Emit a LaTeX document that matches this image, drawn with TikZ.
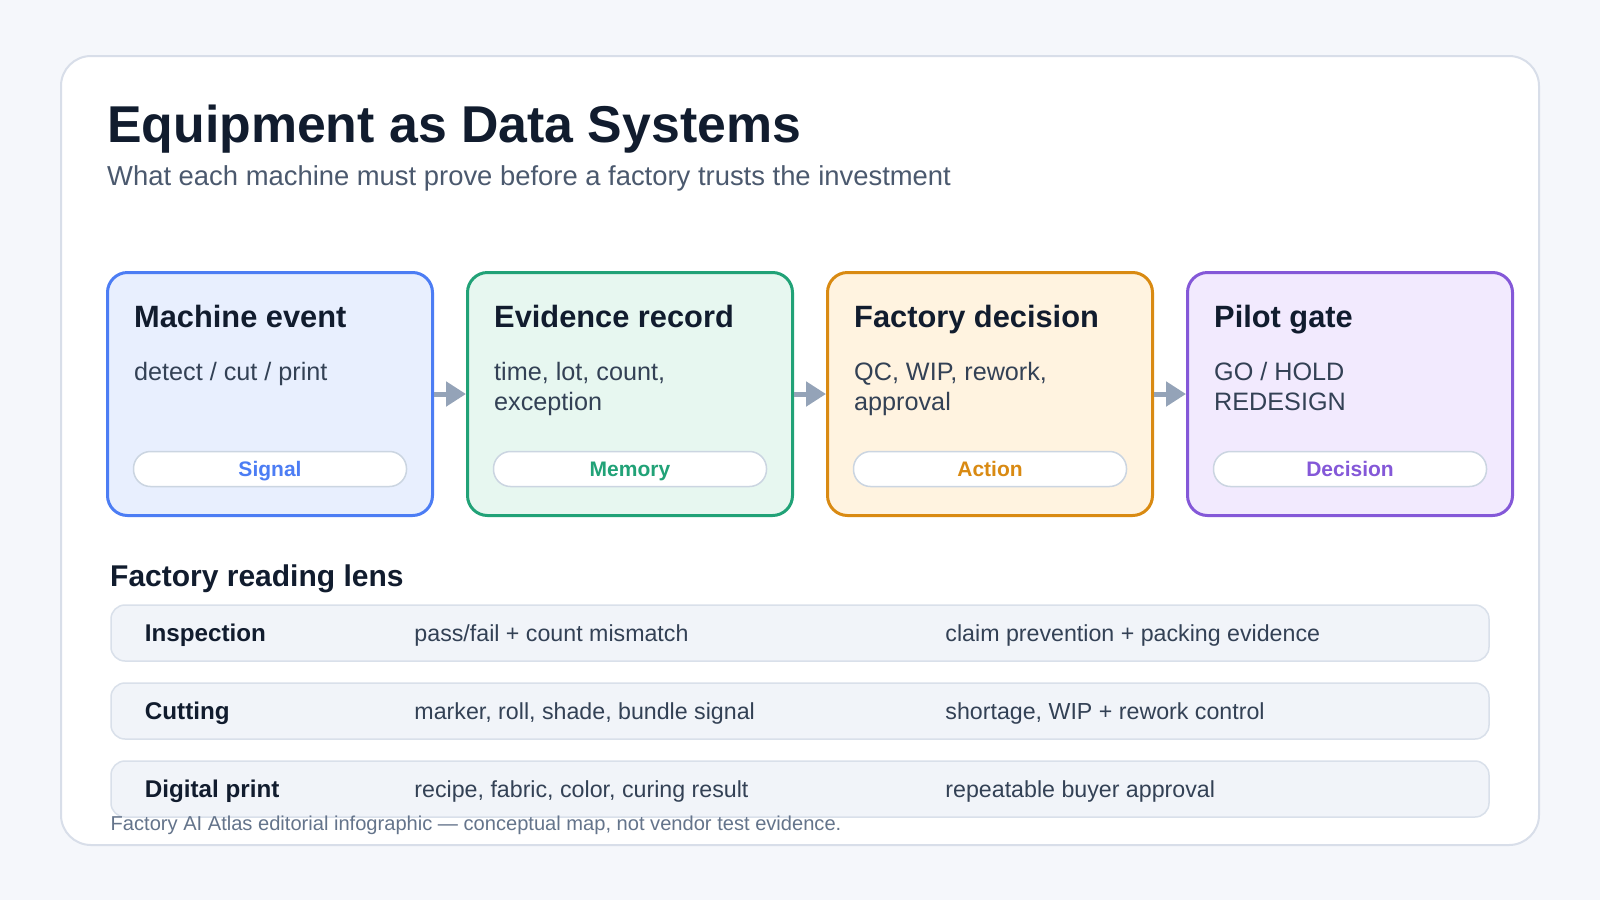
\documentclass[tikz,border=0pt]{standalone}
\usepackage{fontspec}
\setmainfont{Liberation Sans}
\usetikzlibrary{arrows.meta,positioning,calc}
\definecolor{pageBG}{HTML}{F5F7FB}
\definecolor{frameLine}{HTML}{D8DEE9}
\definecolor{inkDark}{HTML}{111C2E}
\definecolor{inkSub}{HTML}{4B596E}
\definecolor{inkBody}{HTML}{334155}
\definecolor{inkFoot}{HTML}{64748B}
\definecolor{flowGrey}{HTML}{94A3B8}
\definecolor{pillLine}{HTML}{CBD5E1}
\definecolor{rowFill}{HTML}{F1F4F9}
\definecolor{rowLine}{HTML}{D9E0EA}
\definecolor{sigBlue}{HTML}{4C7DF4}
\definecolor{sigBlueBG}{HTML}{E8EFFE}
\definecolor{memGreen}{HTML}{21A277}
\definecolor{memGreenBG}{HTML}{E7F7F0}
\definecolor{actOrange}{HTML}{D98A12}
\definecolor{actOrangeBG}{HTML}{FFF3E0}
\definecolor{decPurple}{HTML}{8458D8}
\definecolor{decPurpleBG}{HTML}{F2EAFE}
\newcommand{\pxsize}[1]{\fontsize{#1}{#1}\selectfont}

\begin{document}
\begin{tikzpicture}[
    x=1pt,y=-1pt,
    card/.style={draw=#1,fill=#1BG,line width=3pt,rounded corners=20pt,
      minimum width=325pt,minimum height=243pt,inner sep=0pt},
    pill/.style={draw=pillLine,fill=white,line width=1.5pt,rounded corners=17pt,
      minimum width=273pt,minimum height=35pt,inner sep=0pt,
      text height=15pt,text depth=0pt,
      font=\bfseries\pxsize{21},text=#1},
    row/.style={draw=rowLine,fill=rowFill,line width=1.5pt,rounded corners=14pt,
      minimum width=1378pt,minimum height=56pt,inner sep=0pt},
    txt/.style={inner sep=0pt,anchor=base west},
    cardhead/.style={txt,font=\bfseries\pxsize{30.8},text=inkDark},
    cardbody/.style={txt,font=\pxsize{25.2},text=inkBody},
    rowhead/.style={txt,font=\bfseries\pxsize{24.2},text=inkDark},
    rowbody/.style={txt,font=\pxsize{23.2},text=inkBody},
    flow/.style={-{Triangle[length=20pt,width=24pt]},line width=5pt,flowGrey}
  ]
  \useasboundingbox (0,0) rectangle (1600,900);
  \fill[pageBG] (0,0) rectangle (1600,900);
  \draw[frameLine,fill=white,line width=2pt,rounded corners=30pt]
    (61,56) rectangle (1539,845);

  \node[txt,font=\bfseries\pxsize{51.8},text=inkDark] (title) at (107,142)
    {Equipment as Data Systems};
  \node[txt,font=\pxsize{27.4},text=inkSub] (subtitle) at (107,185)
    {What each machine must prove before a factory trusts the investment};

  % the four stages
  \foreach \i/\hue/\head/\lineA/\lineB/\tag in {
      1/sigBlue/Machine event/{detect / cut / print}/{}/Signal,
      2/memGreen/Evidence record/{time, lot, count,}/exception/Memory,
      3/actOrange/Factory decision/{QC, WIP, rework,}/approval/Action,
      4/decPurple/Pilot gate/{GO / HOLD}/REDESIGN/Decision}{
    \node[card=\hue] (c\i) at ({270+360*(\i-1)},394) {};
    \node[cardhead] (c\i-head) at ($(c\i.north west)+(28,56)$) {\head};
    \node[cardbody] (c\i-l1) at ($(c\i.north west)+(28,109)$) {\lineA};
    \node[cardbody] (c\i-l2) at ($(c\i.north west)+(28,139)$) {\lineB};
    \node[pill=\hue] (c\i-tag) at ($(c\i.north)+(0,198)$) {\tag};
  }
  \foreach \a/\b in {1/2,2/3,3/4}
    \draw[flow] (c\a.east) -- (c\b.west);

  % reading lens table
  \node[txt,font=\bfseries\pxsize{30},text=inkDark] (lens) at (110,586)
    {Factory reading lens};
  \foreach \k/\stage/\sig/\gain in {
      1/Inspection/{pass/fail + count mismatch}/{claim prevention + packing evidence},
      2/Cutting/{marker, roll, shade, bundle signal}/{shortage, WIP + rework control},
      3/Digital print/{recipe, fabric, color, curing result}/{repeatable buyer approval}}{
    \node[row] (r\k) at (800,{633+78*(\k-1)}) {};
    \node[rowhead] (r\k-stage) at ($(r\k.west)+(34.5,8)$) {\stage};
    \node[rowbody] (r\k-sig) at ($(r\k.west)+(304,8)$) {\sig};
    \node[rowbody] (r\k-gain) at ($(r\k.west)+(835,8)$) {\gain};
  }

  \node[txt,font=\pxsize{20.1},text=inkFoot] (foot) at (110.5,830)
    {Factory AI Atlas editorial infographic — conceptual map, not vendor test evidence.};
\end{tikzpicture}
\end{document}
